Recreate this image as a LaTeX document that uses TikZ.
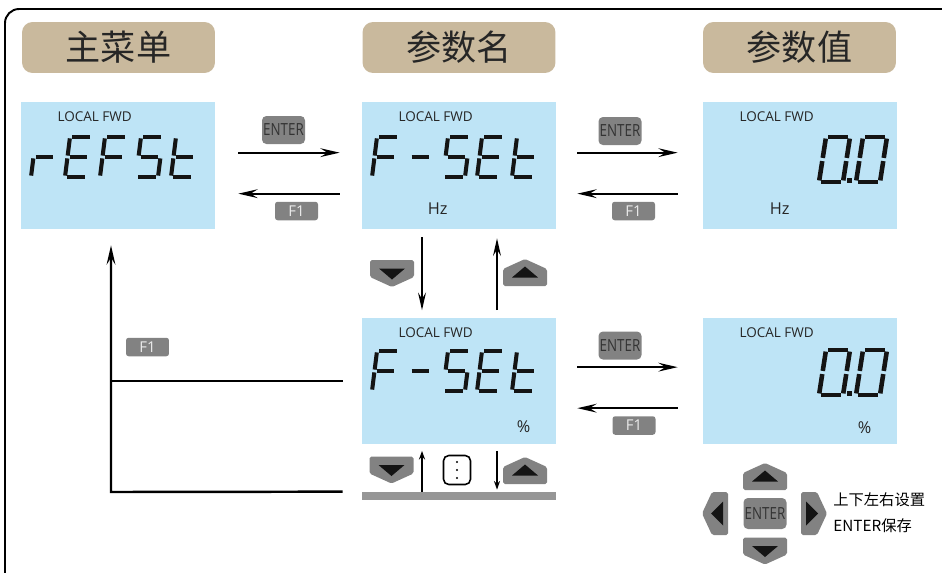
\documentclass[tikz,border=0pt]{standalone}
\usepackage{fontspec}
\setmainfont{Open Sans}
\newfontfamily\cjk{Noto Sans CJK SC}
\newfontfamily\narrow[FakeStretch=0.8]{Open Sans}
\usetikzlibrary{arrows.meta,positioning,calc}
\definecolor{ctab}{RGB}{201,185,157}
\definecolor{clcd}{RGB}{190,228,246}
\definecolor{ckey}{RGB}{130,130,130}
\definecolor{cbar}{RGB}{150,150,150}
\definecolor{cink}{RGB}{20,20,20}

% seven segment pieces, unit cell 1 wide, 2 high
\newcommand{\lcdsega}{\draw[seg] (0.1,2) -- (0.9,2);}
\newcommand{\lcdsegb}{\draw[seg] (1,1.93) -- (1,1.07);}
\newcommand{\lcdsegc}{\draw[seg] (1,0.93) -- (1,0.07);}
\newcommand{\lcdsegd}{\draw[seg] (0.1,0) -- (0.9,0);}
\newcommand{\lcdsege}{\draw[seg] (0,0.93) -- (0,0.07);}
\newcommand{\lcdsegf}{\draw[seg] (0,1.93) -- (0,1.07);}
\newcommand{\lcdsegg}{\draw[seg] (0.1,1) -- (0.9,1);}
\newcommand{\lcdchar}[3][]{%
  \begin{scope}[shift={#2},x={(0.44cm,0)},y={(0.05cm,0.4cm)},#1]
    \foreach \sg in {#3} {\csname lcdseg\sg\endcsname}
  \end{scope}}

\tikzset{
  downkey/.pic={
    \fill[ckey,rounded corners=1pt] (-22,-13.5) -- (22,-13.5) -- (22,3.5) -- (0,13.5) -- (-22,3.5) -- cycle;
    \fill[cink] (-13,-5) -- (13,-5) -- (0,6) -- cycle;},
  upkey/.pic={
    \fill[ckey,rounded corners=1pt] (-22,13.5) -- (22,13.5) -- (22,-3.5) -- (0,-13.5) -- (-22,-3.5) -- cycle;
    \fill[cink] (-13,5) -- (13,5) -- (0,-6) -- cycle;},
  leftkey/.pic={
    \fill[ckey,rounded corners=1pt] (13,-21.5) -- (-3,-21.5) -- (-13,0) -- (-3,21.5) -- (13,21.5) -- cycle;
    \fill[cink] (8,-12) -- (8,12) -- (-4,0) -- cycle;},
  rightkey/.pic={
    \fill[ckey,rounded corners=1pt] (-13,-21.5) -- (3,-21.5) -- (13,0) -- (3,21.5) -- (-13,21.5) -- cycle;
    \fill[cink] (-8,-12) -- (-8,12) -- (4,0) -- cycle;}
}

\begin{document}
\begin{tikzpicture}[x=0.02cm,y=-0.02cm,
    tab/.style={fill=ctab, rounded corners=6pt, minimum width=3.86cm, minimum height=1.02cm,
                inner sep=0pt, font=\cjk\fontsize{20}{24}\selectfont, text=black!85},
    lcd/.style={fill=clcd, minimum width=3.88cm, minimum height=2.54cm, inner sep=0pt},
    lcdtag/.style={font=\fontsize{7.7}{9}\selectfont, inner sep=0pt, text=black!85},
    unit/.style={font=\fontsize{9.3}{11}\selectfont, inner sep=0pt, text=black!85},
    enterkey/.style={fill=ckey, rounded corners=2.5pt, minimum width=0.86cm, minimum height=0.56cm,
                     inner sep=0pt, font=\narrow\fontsize{9.5}{11}\selectfont, text=black!80},
    fkey/.style={fill=ckey, rounded corners=1.5pt, minimum width=0.86cm, minimum height=0.37cm,
                 inner sep=0pt, font=\fontsize{8.5}{10}\selectfont, text=white!92!black},
    seg/.style={line width=2.3pt, cink},
    big/.style={x={(0.48cm,0)}, y={(0.07cm,0.45cm)}, seg/.append style={line width=2.6pt}},
    flow/.style={-{Stealth[length=11pt,width=5pt,inset=4pt]}, line width=1.1pt},
    vflow/.style={-{Stealth[length=10pt,width=4.5pt,inset=3.5pt]}, line width=0.9pt},
    tick/.style={-{Stealth[length=5pt,width=3.5pt]}, line width=0.7pt},
    back/.style={line width=1.4pt}]
  \useasboundingbox (0,0) rectangle (942,572);
  \clip (0,0) rectangle (942,572);
  \draw[line width=1.1pt, rounded corners=8pt] (5,9) rectangle (960,590);

  \node[tab] (tmenu) at (118.5,47.5) {主菜单};
  \node[tab] (tname) at (459,47.5) {参数名};
  \node[tab] (tval) at (799.5,47.5) {参数值};

  \node[lcd] (menu) at (118,165.5) {};
  \node[lcd] (name) at (459,165.5) {};
  \node[lcd] (val) at (800,165.5) {};
  \node[lcd] (pname) at (459,381) {};
  \node[lcd] (pval) at (800,381) {};
  \foreach \b in {menu,name,val,pname,pval}
    \node[lcdtag] (\b-tag) at ($(\b.north west)+(74,15)$) {LOCAL FWD};
  \node[unit] (name-unit) at ($(name.north west)+(76,107)$) {Hz};
  \node[unit] (val-unit) at ($(val.north west)+(77,107)$) {Hz};
  \node[unit] (pname-unit) at ($(pname.north west)+(162,109)$) {\%};
  \node[unit] (pval-unit) at ($(pval.north west)+(162,110)$) {\%};

  % rEFSt
  \lcdchar{(31,177)}{e,g}
  \lcdchar{(65,177)}{a,d,e,f,g}
  \lcdchar{(100,177)}{a,e,f,g}
  \lcdchar{(136,177)}{a,c,d,f,g}
  \lcdchar{(171,177)}{d,e,f,g}
  % F-SEt
  \foreach \y in {177,391} {
    \lcdchar{(372,\y)}{a,e,f,g}
    \lcdchar{(407,\y)}{g}
    \lcdchar{(443,\y)}{a,c,d,f,g}
    \lcdchar{(477,\y)}{a,d,e,f,g}
    \lcdchar{(512,\y)}{d,e,f,g}
  }
  % 0.0
  \foreach \y in {182,395} {
    \lcdchar[big]{(819,\y)}{a,b,c,d,e,f}
    \lcdchar[big]{(856,\y)}{a,b,c,d,e,f}
    \fill[cink] (847,\y-4.5) rectangle (852,\y+0.5);
  }

  \node[enterkey] (e1) at (283.5,130) {ENTER};
  \node[fkey] (f1) at (296.5,211) {F1};
  \node[enterkey] (e2) at (620,131) {ENTER};
  \node[fkey] (f2) at (633.5,211) {F1};
  \node[enterkey] (e3) at (620,345.5) {ENTER};
  \node[fkey] (f3) at (634,425.5) {F1};
  \node[fkey] (f4) at (147.5,347) {F1};

  \draw[flow] ($(menu.north east)+(23,51)$) -- ($(name.north west)+(-22,51)$);
  \draw[flow] ($(name.north west)+(-22,92)$) -- ($(menu.north east)+(23,92)$);
  \draw[flow] ($(name.north east)+(21,51)$) -- ($(val.north west)+(-25,51)$);
  \draw[flow] ($(val.north west)+(-25,92)$) -- ($(name.north east)+(21,92)$);
  \draw[flow] ($(pname.north east)+(21,50)$) -- ($(pval.north west)+(-25,50)$);
  \draw[flow] ($(pval.north west)+(-25,91)$) -- ($(pname.north east)+(21,91)$);

  \draw[vflow] ($(name.south)+(-37,8)$) -- ($(pname.north)+(-37,-7)$);
  \draw[vflow] ($(pname.north)+(38,-7)$) -- ($(name.south)+(38,9)$);
  \pic (kdn1) at (392,273.5) {downkey};
  \pic (kup1) at (525,272.5) {upkey};

  \node[fill=cbar, minimum width=3.88cm, minimum height=0.16cm, inner sep=0pt] (bar) at (459,496) {};
  \draw[tick] ($(bar.north)+(-37,0)$) -- ($(pname.south)+(-37,6)$);
  \draw[tick] ($(pname.south)+(38,6)$) -- ($(bar.north)+(38,-2)$);
  \pic (kdn2) at (391.5,470) {downkey};
  \pic (kup2) at (525,470.5) {upkey};
  \node[draw, line width=0.9pt, rounded corners=3pt, minimum width=0.54cm, minimum height=0.58cm,
        inner sep=0pt] (dots) at (457,470) {};
  \foreach \dy in {-8,0,8}
    \fill ($(dots.center)+(0,\dy)$) circle (0.6pt);

  \coordinate (ret) at (111,492);
  \draw[back] ($(pname.west)+(-19,0)$) -- (ret |- pname.west);
  \draw[back, -{Stealth[length=11pt,width=5pt,inset=4pt]}] ($(bar.north west)+(-19,0)$) -- (ret)
    -- ($(menu.south)+(-7,16)$);

  % keypad
  \pic (kup) at (765,476.5) {upkey};
  \pic (kdn) at (765,551) {downkey};
  \pic (klt) at (715,513.5) {leftkey};
  \pic (krt) at (814,513.5) {rightkey};
  \node[enterkey, minimum height=0.62cm] (ekey) at (765,513.5) {ENTER};
  \node[anchor=west, inner sep=0pt, font=\cjk\fontsize{8.7}{10}\selectfont] (hint1) at (833,500) {上下左右设置};
  \node[anchor=west, inner sep=0pt, font=\cjk\fontsize{8.7}{10}\selectfont] (hint2) at (833,526) {ENTER保存};
\end{tikzpicture}
\end{document}
